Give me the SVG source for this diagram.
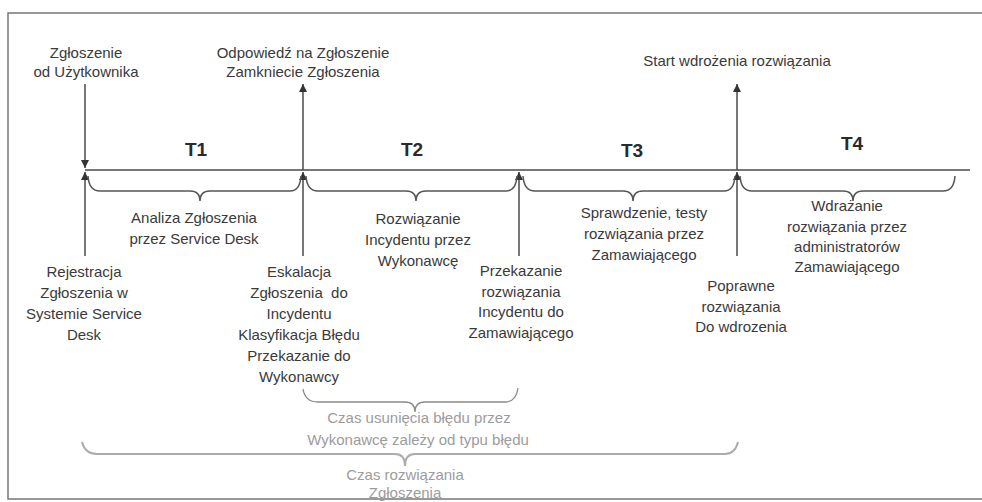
<svg xmlns="http://www.w3.org/2000/svg" width="982" height="502" viewBox="0 0 982 502">
<defs>
<style>
.t{font-family:"Liberation Sans",Arial,sans-serif;font-size:15px;fill:#3a3a3a;text-anchor:middle}
.g{font-family:"Liberation Sans",Arial,sans-serif;font-size:15px;fill:#9c9c9c;text-anchor:middle}
.b{font-family:"Liberation Sans",Arial,sans-serif;font-size:19px;font-weight:bold;fill:#2a2a2a;text-anchor:middle}
.ln{stroke:#4a4a4a;stroke-width:1.5;fill:none}
.br{stroke:#555;stroke-width:1.5;fill:none}
.bg{stroke:#8a8a8a;stroke-width:1.3;fill:none}
.bg2{stroke:#acacac;stroke-width:2;fill:none}
</style>
<marker id="ah" viewBox="0 0 10 10" refX="10" refY="5" markerWidth="10" markerHeight="8" markerUnits="userSpaceOnUse" orient="auto">
<path d="M0,0 L10,5 L0,10 z" fill="#333"/>
</marker>
</defs>
<rect x="8" y="13" width="985" height="486" fill="#fff" stroke="#777" stroke-width="1.5"/>
<g id="connectors">
<line class="ln" x1="85" y1="170" x2="970" y2="170"/>
<line class="ln" x1="85" y1="84" x2="85" y2="168" marker-end="url(#ah)"/>
<line class="ln" x1="85" y1="256" x2="85" y2="172" marker-end="url(#ah)"/>
<line class="ln" x1="303" y1="256" x2="303" y2="172" marker-end="url(#ah)"/>
<line class="ln" x1="303" y1="170" x2="303" y2="84" marker-end="url(#ah)"/>
<line class="ln" x1="519" y1="256" x2="519" y2="172" marker-end="url(#ah)"/>
<line class="ln" x1="737" y1="256" x2="737" y2="172" marker-end="url(#ah)"/>
<line class="ln" x1="737" y1="170" x2="737" y2="84" marker-end="url(#ah)"/>
<path class="br" d="M88,176 Q89,191 100,191 L190,191 Q200,191 200,201 Q200,191 210,191 L290,191 Q300,191 301,176"/>
<path class="br" d="M306,176 Q307,191 318,191 L406,191 Q416,191 416,201 Q416,191 426,191 L506,191 Q516,191 517,176"/>
<path class="br" d="M523,176 Q524,191 535,191 L623,191 Q633,191 633,201 Q633,191 643,191 L724,191 Q734,191 735,176"/>
<path class="br" d="M740,176 Q741,191 752,191 L843,191 Q853,191 853,201 Q853,191 863,191 L943,191 Q954,191 955,176"/>
<path class="bg" d="M303,389 Q305,402 318,402 L405,402 Q415,402 415,412 Q415,402 425,402 L505,402 Q516,402 518,388"/>
<path class="bg2" d="M82,442 Q85,454 97,454 L395,454 Q405,454 405,466 Q405,454 415,454 L725,454 Q735,454 738,442"/>
</g>
<g id="labels-T">
<text class="b" x="196" y="156">T1</text>
<text class="b" x="412" y="156">T2</text>
<text class="b" x="632" y="157">T3</text>
<text class="b" x="852" y="150">T4</text>
</g>
<g id="n-zgloszenie"><text class="t" x="86" y="58">Zgłoszenie</text><text class="t" x="86" y="77">od Użytkownika</text></g>
<g id="n-odpowiedz"><text class="t" x="303" y="58">Odpowiedź na Zgłoszenie</text><text class="t" x="303" y="77">Zamkniecie Zgłoszenia</text></g>
<g id="n-start"><text class="t" x="737" y="66">Start wdrożenia rozwiązania</text></g>
<g id="n-analiza"><text class="t" x="194" y="223">Analiza Zgłoszenia</text><text class="t" x="194" y="244">przez Service Desk</text></g>
<g id="n-rozwiazanie"><text class="t" x="418" y="224">Rozwiązanie</text><text class="t" x="418" y="245">Incydentu przez</text><text class="t" x="418" y="266">Wykonawcę</text></g>
<g id="n-sprawdzenie"><text class="t" x="644" y="218">Sprawdzenie, testy</text><text class="t" x="644" y="239">rozwiązania przez</text><text class="t" x="644" y="260">Zamawiającego</text></g>
<g id="n-wdrazanie"><text class="t" x="847" y="211">Wdrażanie</text><text class="t" x="847" y="232">rozwiązania przez</text><text class="t" x="847" y="252">administratorów</text><text class="t" x="847" y="272">Zamawiającego</text></g>
<g id="n-rejestracja"><text class="t" x="84" y="277">Rejestracja</text><text class="t" x="84" y="298">Zgłoszenia w</text><text class="t" x="84" y="319">Systemie Service</text><text class="t" x="84" y="340">Desk</text></g>
<g id="n-eskalacja"><text class="t" x="299" y="277">Eskalacja</text><text class="t" x="299" y="298" xml:space="preserve">Zgłoszenia  do</text><text class="t" x="299" y="319">Incydentu</text><text class="t" x="299" y="340">Klasyfikacja Błędu</text><text class="t" x="299" y="361">Przekazanie do</text><text class="t" x="299" y="382">Wykonawcy</text></g>
<g id="n-przekazanie"><text class="t" x="521" y="276">Przekazanie</text><text class="t" x="521" y="297">rozwiązania</text><text class="t" x="521" y="317">Incydentu do</text><text class="t" x="521" y="338">Zamawiającego</text></g>
<g id="n-poprawne"><text class="t" x="741" y="291">Poprawne</text><text class="t" x="741" y="312">rozwiązania</text><text class="t" x="741" y="332">Do wdrozenia</text></g>
<g id="n-czas-usuniecia"><text class="g" x="419" y="423">Czas usunięcia błędu przez</text><text class="g" x="418" y="445">Wykonawcę zależy od typu błędu</text></g>
<g id="n-czas-rozwiazania"><text class="g" x="405" y="480">Czas rozwiązania</text><text class="g" x="405" y="498">Zgłoszenia</text></g>
</svg>
